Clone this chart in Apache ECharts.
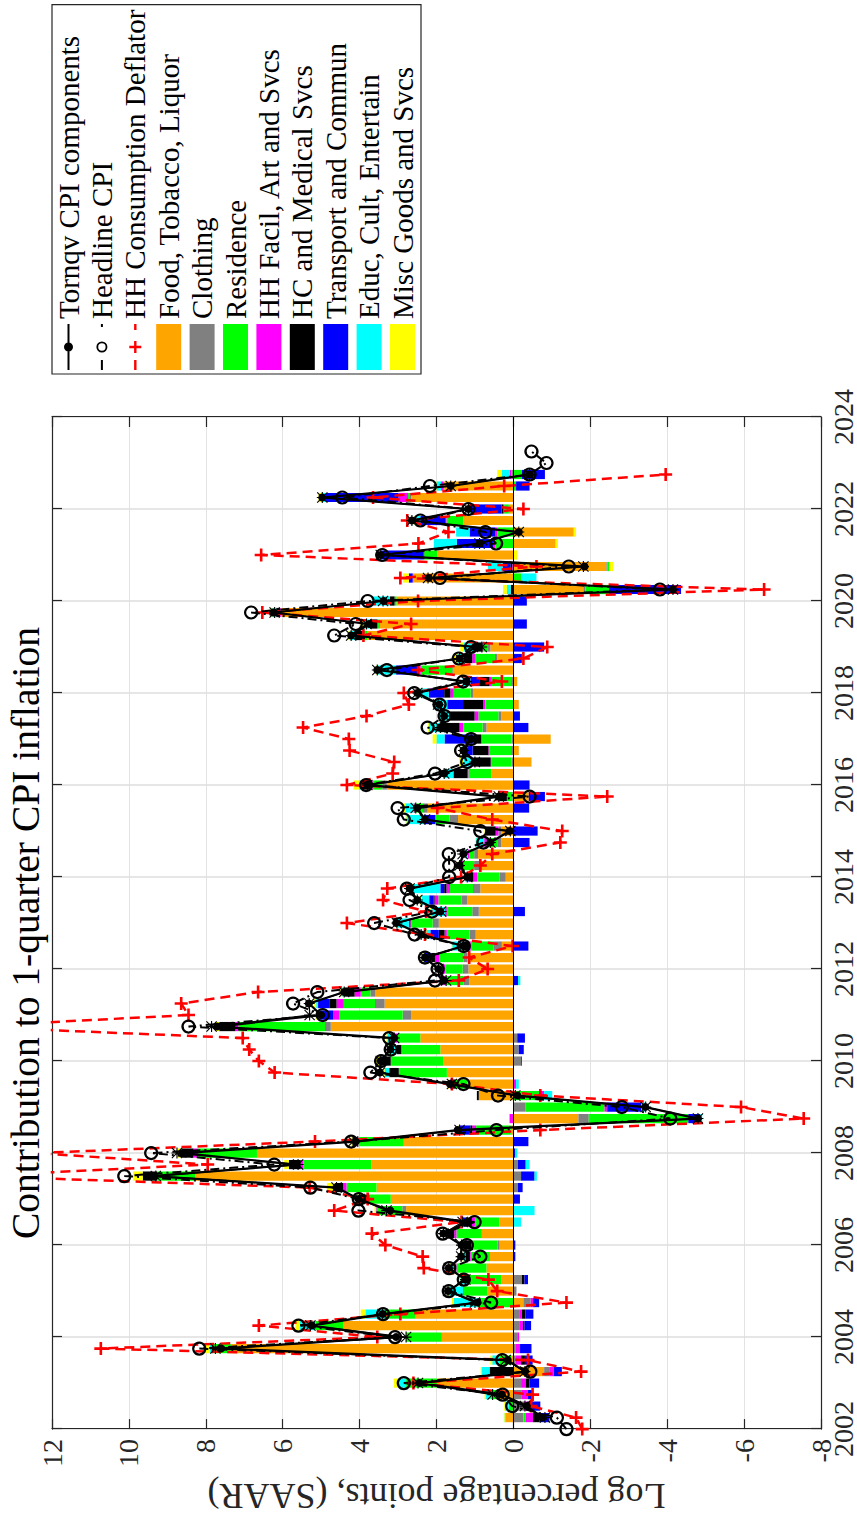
<!DOCTYPE html>
<html>
<head>
<meta charset="utf-8">
<script src="https://cdn.jsdelivr.net/npm/echarts@6.0.0/dist/echarts.min.js"></script>
<style>
  html, body { margin: 0; padding: 0; background: #fff; overflow: hidden; }
  #page { position: relative; width: 857px; height: 1522px; overflow: hidden; background: #fff; }
  /* the figure is laid out in landscape and turned a quarter turn counter-clockwise */
  #chart { position: absolute; left: 0; top: 0; width: 1522px; height: 857px;
           transform-origin: 0 0; transform: translate(0, 1522px) rotate(-90deg); }
</style>
</head>
<body>
<div id="page"><div id="chart"></div></div>
<script>
// Quarterly dates, 2002Q1 .. 2023Q2
const quarters = [
  2002, 2002.25, 2002.5, 2002.75, 2003, 2003.25, 2003.5, 2003.75,
  2004, 2004.25, 2004.5, 2004.75, 2005, 2005.25, 2005.5, 2005.75,
  2006, 2006.25, 2006.5, 2006.75, 2007, 2007.25, 2007.5, 2007.75,
  2008, 2008.25, 2008.5, 2008.75, 2009, 2009.25, 2009.5, 2009.75,
  2010, 2010.25, 2010.5, 2010.75, 2011, 2011.25, 2011.5, 2011.75,
  2012, 2012.25, 2012.5, 2012.75, 2013, 2013.25, 2013.5, 2013.75,
  2014, 2014.25, 2014.5, 2014.75, 2015, 2015.25, 2015.5, 2015.75,
  2016, 2016.25, 2016.5, 2016.75, 2017, 2017.25, 2017.5, 2017.75,
  2018, 2018.25, 2018.5, 2018.75, 2019, 2019.25, 2019.5, 2019.75,
  2020, 2020.25, 2020.5, 2020.75, 2021, 2021.25, 2021.5, 2021.75,
  2022, 2022.25, 2022.5, 2022.75, 2023, 2023.25
];
// quarter slots of the bar axis run to the right edge of the plot
const slotQuarters = quarters.concat([2023.5, 2023.75, 2024]);

// Component contributions, 2002Q2 .. 2022Q4 (log pp, SAAR)
const food = [0.2, 0.0, 0.35, 1.98, -0.8, 0.05, 7.35, 1.86, 4.43, 2.54, -0.26, 0.67, 0.32, 0.7, 0.61, 0.36, 0.82, 0.37, 2.79, 3.19, 3.56, 8.27, 3.69, 6.67, 2.85, 0.05, -1.69, 0.0, 0.9, 1.2, 1.73, 1.83, 1.9, 2.42, 4.75, 2.66, 3.35, 3.6, 1.15, 1.17, 1.2, 0.3, 0.98, 1.94, 0.9, 1.2, 0.86, 0.2, 0.82, 0.92, 0.32, 0.32, 1.44, 2.23, -0.4, 3.29, 0.57, -0.47, -0.14, -0.97, 0.7, 0.32, -0.14, 1.05, -0.1, 1.57, 0.42, 0.6, 3.79, 3.47, 6.03, 3.04, -1.82, 2.6, -2.42, 1.98, -1.1, -1.57, 1.3, 0.1, 2.66, 1.8, 0.0];
const clothing = [-0.26, -0.25, -0.22, -0.2, -0.15, -0.05, -0.05, -0.1, -0.17, -0.17, -0.19, -0.08, -0.22, 0.0, 0.0, 0.05, 0.0, 0.0, 0.1, 0.0, -0.12, -0.2, -0.12, 0.0, 0.0, 0.02, -0.27, -0.32, 0.0, 0.0, 0.0, -0.2, -0.14, -0.1, 0.15, 0.22, 0.25, 0.12, 0.15, 0.15, 0.1, 0.22, 0.16, 0.16, 0.17, 0.15, 0.19, 0.16, 0.2, 0.1, 0.1, 0.07, 0.22, 0.12, 0.03, 0.12, 0.0, 0.05, 0.06, 0.05, 0.1, 0.07, 0.0, 0.06, 0.06, 0.02, 0.06, 0.08, 0.0, 0.0, 0.0, 0.0, -0.05, 0.0, -0.03, 0.0, 0.0, 0.0, 0.0, 0.02, 0.03, 0.03, 0.05];
const residence = [-0.06, 0.12, 0.25, 0.81, 0.0, 0.3, 0.45, 0.93, 0.72, 0.81, 0.95, 0.62, 0.85, 0.78, 0.5, 0.66, 0.66, 0.63, 0.67, 0.54, 0.78, 1.0, 1.78, 1.53, 1.18, 0.9, -2.59, -2.05, -0.7, 0.3, 1.25, 1.36, 1.0, 0.6, 2.25, 1.64, 0.81, 0.25, 0.45, 0.45, 0.62, 0.59, 0.59, 0.56, 0.66, 0.6, 0.6, 0.58, 0.27, 0.12, 0.27, 0.0, 0.37, 0.2, 0.12, 0.25, 0.6, 0.52, 0.56, 0.77, 0.5, 0.52, 0.73, 0.44, 0.5, 0.82, 0.5, 0.1, 0.12, 0.05, 0.02, 0.05, -0.62, -0.2, -0.05, 0.34, 0.47, 0.42, 0.44, 0.12, 0.05, -0.07, -0.22];
const hhFacil = [-0.19, -0.1, -0.15, -0.12, -0.1, -0.15, -0.12, -0.05, -0.08, -0.05, -0.06, 0.02, 0.03, 0.03, 0.02, 0.03, 0.06, 0.08, 0.02, 0.03, 0.09, 0.0, 0.06, 0.12, 0.1, 0.1, 0.1, -0.06, -0.1, -0.07, 0.0, 0.0, 0.02, 0.09, 0.08, 0.17, 0.19, 0.16, 0.1, 0.06, 0.12, 0.03, 0.06, 0.02, 0.02, 0.1, 0.09, 0.1, 0.1, 0.05, 0.07, 0.07, 0.0, 0.02, 0.02, 0.05, 0.02, 0.02, 0.03, 0.02, 0.1, 0.1, 0.06, 0.09, 0.06, 0.07, 0.09, 0.02, 0.02, 0.02, 0.02, 0.0, 0.0, 0.02, 0.03, 0.0, 0.05, 0.05, 0.02, 0.02, 0.25, 0.05, 0.05];
const hcMedical = [-0.16, -0.05, 0.0, -0.1, 0.62, -0.1, 0.05, 0.0, -0.04, -0.09, 0.0, 0.0, -0.07, 0.02, 0.12, 0.2, 0.2, 0.15, 0.0, 0.25, 0.22, 0.37, 0.31, 0.31, 0.05, 0.05, 0.0, -0.02, 0.05, 0.1, 0.25, 0.29, 0.12, 0.07, 0.42, 0.0, 0.19, 0.27, 0.05, 0.02, 0.1, 0.2, 0.15, 0.02, 0.02, 0.02, 0.06, 0.12, 0.0, 0.0, 0.0, 0.27, 0.0, 0.02, 0.2, 0.25, 0.37, 0.45, 0.41, 0.2, 0.5, 0.65, 0.52, 0.16, 0.25, 0.0, 0.2, 0.2, 0.19, 0.19, 0.1, 0.12, 0.07, 0.0, 0.05, 0.02, 0.0, 0.0, 0.0, 0.05, 0.0, 0.0, 0.0];
const transport = [-0.27, -0.3, -0.14, -0.25, -0.21, -0.2, -0.3, 0.0, -0.17, -0.21, -0.16, 0.0, -0.09, 0.0, -0.05, -0.05, 0.0, 0.1, 0.0, -0.17, -0.12, -0.35, -0.2, -0.05, -0.39, 0.3, -0.31, -0.87, 0.0, 0.05, 0.0, -0.02, -0.13, -0.2, 0.0, 0.36, 0.29, 0.0, -0.12, 0.0, 0.18, -0.39, 0.22, 0.02, -0.3, 0.12, 0.1, 0.05, -0.02, 0.0, -0.42, -0.63, 0.31, -0.41, -0.42, -0.42, 0.0, 0.05, 0.12, 0.75, -0.39, -0.17, 0.41, 0.4, 0.25, 0.57, -0.22, -0.8, 0.0, -0.35, 0.0, -0.35, -1.87, 0.1, 0.2, 1.1, 0.95, 0.67, 0.66, 0.8, 1.9, -0.35, -0.6];
const educCult = [0.03, 0.1, 0.12, 0.2, 0.21, 0.2, 0.05, 0.0, 0.4, 0.5, 0.6, 0.37, 0.18, 0.1, 0.05, 0.05, 0.0, -0.2, -0.55, 0.0, 0.0, -0.06, -0.1, -0.05, 0.0, 0.0, -0.05, -0.1, -0.21, -0.07, 0.12, 0.0, 0.21, 0.1, 0.0, 0.05, 0.05, 0.05, -0.06, 0.02, 0.02, 0.25, 0.1, 0.3, 0.37, 0.19, 0.71, 0.05, 0.02, 0.05, 0.21, 0.0, 0.44, 0.22, 0.03, 0.05, 0.22, 0.2, 0.15, 0.21, 0.3, 0.25, 0.31, 0.22, 0.2, 0.5, 0.2, 0.3, 0.12, 0.15, 0.1, 0.47, 0.1, -0.4, 0.38, 0.0, 0.6, 0.35, 0.15, 0.03, 0.1, 0.12, 0.2];
const miscGoods = [0.02, 0.02, 0.03, 0.12, 0.02, 0.05, 0.12, 0.03, 0.12, 0.12, 0.05, 0.02, 0.02, 0.02, 0.02, 0.02, 0.02, 0.03, 0.03, 0.05, 0.2, 0.25, 0.12, 0.12, 0.05, 0.02, 0.0, 0.0, 0.0, 0.05, 0.03, 0.12, 0.02, 0.02, 0.1, 0.05, 0.05, 0.05, 0.0, 0.02, 0.02, 0.02, 0.02, 0.05, 0.02, 0.05, 0.04, 0.0, 0.0, 0.02, 0.02, 0.02, 0.02, 0.05, 0.0, 0.15, 0.02, 0.12, 0.02, 0.1, 0.02, 0.02, 0.02, 0.02, 0.0, 0.02, 0.08, 0.08, 0.05, 0.1, 0.05, 0.02, 0.1, 0.15, -0.1, -0.1, -0.06, -0.06, 0.02, 0.02, 0.08, 0.05, 0.12];

// Aggregates, 2002Q2 .. 2022Q4
const tornqv = [-0.75, -0.35, 0.3, 2.45, -0.3, 0.15, 7.6, 3.05, 5.25, 3.4, 0.93, 1.7, 1.25, 1.68, 1.36, 1.35, 1.82, 1.2, 3.2, 4.03, 4.6, 9.4, 5.65, 8.6, 4.1, 1.45, -4.8, -3.43, -0.1, 1.65, 3.47, 3.45, 3.2, 3.1, 7.7, 5.0, 5.32, 4.4, 1.8, 1.95, 2.3, 1.3, 2.4, 3.05, 1.9, 2.5, 2.7, 1.2, 1.4, 1.3, 0.6, 0.1, 2.3, 2.5, 0.38, 3.8, 1.8, 1.0, 1.3, 1.1, 1.9, 1.8, 1.93, 2.5, 1.22, 3.54, 1.4, 1.0, 4.22, 3.75, 6.25, 3.37, -4.15, 2.2, -1.85, 3.45, 0.88, -0.14, 2.64, 1.17, 4.97, 1.63, -0.42];
const tornqvIndex = [-0.82, -0.3, 0.54, 2.48, -0.3, 0.2, 7.75, 2.79, 5.28, 3.4, 1.0, 1.7, 1.25, 1.68, 1.36, 1.35, 1.82, 1.32, 3.3, 4.0, 4.6, 9.3, 5.6, 8.75, 4.17, 1.4, -4.8, -3.44, -0.05, 1.6, 3.47, 3.45, 3.2, 3.1, 7.85, 5.3, 5.31, 4.4, 1.75, 1.95, 2.3, 1.3, 2.4, 3.03, 1.88, 2.5, 2.7, 1.2, 1.4, 1.32, 0.6, 0.08, 2.3, 2.54, 0.38, 3.8, 1.8, 1.0, 1.3, 1.1, 1.9, 1.8, 1.96, 2.5, 1.22, 3.54, 1.4, 0.82, 4.22, 3.82, 6.21, 3.39, -4.15, 2.22, -1.82, 3.45, 0.88, -0.14, 2.64, 1.17, 4.97, 1.63, -0.42];
// Headline CPI, 2002Q1 .. 2023Q2
const headline = [-1.38, -1.13, 0.03, 0.28, 2.85, -0.44, 0.29, 8.17, 3.08, 5.59, 3.39, 0.58, 1.68, 1.29, 1.67, 0.86, 1.21, 1.84, 1.01, 4.03, 4.02, 5.28, 10.12, 6.22, 9.42, 4.22, 0.44, -4.08, -2.82, 0.4, 1.3, 3.72, 3.44, 3.19, 3.23, 8.45, 4.96, 5.73, 5.1, 2.04, 1.97, 2.3, 1.29, 2.57, 3.62, 2.12, 2.7, 2.77, 1.67, 1.67, 1.68, 0.78, 0.86, 2.85, 3.01, -0.42, 3.83, 2.04, 1.2, 1.36, 1.1, 2.23, 1.79, 1.92, 2.58, 1.31, 3.29, 1.42, 1.1, 4.66, 4.1, 6.82, 3.79, -3.81, 1.91, -1.44, 3.41, 0.45, 0.73, 2.42, 1.17, 4.45, 2.17, -0.42, -0.86, -0.47];
// HH consumption deflator, 2002Q1 .. 2022Q4
const hhDeflator = [-1.79, -1.63, -0.46, -0.5, 2.6, -1.76, -0.38, 10.73, 3.54, 6.62, 2.94, -1.38, 0.42, 0.65, 2.33, 2.36, 3.33, 3.68, 1.35, 4.66, 3.79, 5.3, 14.0, 7.95, 12.4, 5.16, -0.7, -7.55, -5.92, -0.7, 1.6, 6.21, 6.62, 6.87, 7.04, 14.3, 8.45, 8.64, 6.64, 1.42, 0.67, 1.15, 0.02, 2.3, 4.33, 2.27, 3.39, 3.28, 1.36, 0.86, 0.55, -1.22, -1.27, 0.55, 1.98, -2.44, 4.33, 3.14, 3.1, 4.26, 4.28, 5.47, 3.82, 2.72, 2.85, 0.3, 2.48, -0.26, -0.88, 3.9, 2.66, 6.53, 2.48, -6.52, 2.94, -0.6, 6.56, 2.47, 1.69, 2.76, -0.26, 3.65, 0.24, -3.96];

const componentNames = ['Food, Tobacco, Liquor', 'Clothing', 'Residence', 'HH Facil, Art and Svcs',
  'HC and Medical Svcs', 'Transport and Commun', 'Educ, Cult, Entertain', 'Misc Goods and Svcs'];
const componentColors = ['#FFA500', '#808080', '#00FF00', '#FF00FF', '#000000', '#0000FF', '#00FFFF', '#FFFF00'];
const components = [food, clothing, residence, hhFacil, hcMedical, transport, educCult, miscGoods];
const yearTicks = { min: 2002, max: 2024, step: 2 };
const valueTicks = { min: -8, max: 12, step: 2 };

const barDates = quarters.slice(1, 84);
const hhDates = quarters.slice(0, 84);
const pair = (xs, ys) => ys.map((v, i) => [xs[i], v]);
const slotPair = (xs, ys) => ys.map((v, i) => [String(xs[i]), v]);

const FONT = '"Liberation Serif", "DejaVu Serif", serif';
const AXIS = '#262626';
// marker shapes
const plusPath = 'path://M8,0H12V8H20V12H12V20H8V12H0V8H8Z';
const starPath = 'path://M9,0H11V20H9Z M0,9H20V11H0Z M0,1.4L1.4,0L20,18.6L18.6,20Z M18.6,0L20,1.4L1.4,20L0,18.6Z';
// legend keys: line sample with its marker, drawn in a 46 x 25 box
const keySolidDot = 'path://M0,11.5H46V13.5H0Z M18.5,12.5A4.5,4.5 0 1,1 27.5,12.5A4.5,4.5 0 1,1 18.5,12.5Z';
const keyDashDotRing = 'path://M0,11.5H10V13.5H0Z M17.5,12.5A5.5,5.5 0 1,1 28.5,12.5A5.5,5.5 0 1,1 17.5,12.5Z M19.3,12.5A3.7,3.7 0 1,0 26.7,12.5A3.7,3.7 0 1,0 19.3,12.5Z M43,11.5H46V13.5H43Z';
const keyDashPlus = 'path://M0,11.3H10V13.7H0Z M21.8,6.5H24.2V11.3H29V13.7H24.2V18.5H21.8V13.7H17V11.3H21.8Z M40,11.3H46V13.7H40Z';

// stacked contribution bars sit on a hidden quarterly category axis (index 2)
const barSeries = components.map((vals, k) => ({
  type: 'bar', name: componentNames[k], stack: 'contrib', barWidth: 9.2,
  xAxisIndex: 2, yAxisIndex: 0,
  data: slotPair(barDates, vals), itemStyle: { color: componentColors[k] },
  z: 2, silent: true,
  markLine: k === 0 ? { silent: true, symbol: ['none', 'none'], label: { show: false },
    lineStyle: { color: '#000', width: 1, type: 'solid' }, data: [{ yAxis: 0 }] } : undefined
}));

const chart = echarts.init(document.getElementById('chart'), null, { renderer: 'svg', width: 1522, height: 857 });
chart.setOption({
  animation: false,
  backgroundColor: '#fff',
  title: {
    text: 'Contribution to 1-quarter CPI inflation', left: 584, top: 1, textAlign: 'center',
    textStyle: { fontFamily: FONT, fontSize: 39.5, fontWeight: 'normal', color: '#000' }
  },
  legend: {
    left: 1148, top: 52, orient: 'vertical', padding: [2, 5, 4, 4],
    itemWidth: 46, itemHeight: 25, itemGap: 4.4,
    backgroundColor: '#fff', borderColor: AXIS, borderWidth: 1.2, borderRadius: 0,
    textStyle: { fontFamily: FONT, fontSize: 29, color: '#000', lineHeight: 29 },
    data: [
      { name: 'Tornqv CPI components', icon: keySolidDot, itemStyle: { color: '#000', borderWidth: 0 } },
      { name: 'Headline CPI', icon: keyDashDotRing, itemStyle: { color: '#000', borderWidth: 0 } },
      { name: 'HH Consumption Deflator', icon: keyDashPlus, itemStyle: { color: '#FF0000', borderWidth: 0 } }
    ].concat(componentNames.map(n => ({ name: n, icon: 'rect' })))
  },
  grid: { left: 90, right: 417, top: 52, bottom: 36, containLabel: false },
  xAxis: [{
    type: 'value', min: yearTicks.min, max: yearTicks.max, interval: yearTicks.step, position: 'bottom',
    axisLine: { show: true, onZero: false, lineStyle: { color: AXIS, width: 1.2 } },
    axisTick: { show: true, inside: true, length: 10, lineStyle: { color: AXIS, width: 1.2 } },
    axisLabel: { fontFamily: FONT, fontSize: 28, color: AXIS, margin: 8, formatter: v => String(v) },
    splitLine: { show: true, lineStyle: { color: '#dedede', width: 1.5 } }
  }, {
    type: 'value', min: yearTicks.min, max: yearTicks.max, interval: yearTicks.step, position: 'top',
    axisLine: { show: true, onZero: false, lineStyle: { color: AXIS, width: 1.2 } },
    axisTick: { show: true, inside: true, length: 10, lineStyle: { color: AXIS, width: 1.2 } },
    axisLabel: { show: false }, splitLine: { show: false }
  }, {
    type: 'category', data: slotQuarters.map(String), boundaryGap: false, position: 'bottom',
    axisLine: { show: false }, axisTick: { show: false }, axisLabel: { show: false },
    splitLine: { show: false }
  }],
  yAxis: [{
    type: 'value', min: valueTicks.min, max: valueTicks.max, interval: valueTicks.step, position: 'left',
    name: 'Log percentage points, (SAAR)', nameLocation: 'middle', nameGap: 46,
    nameTextStyle: { fontFamily: FONT, fontSize: 36, color: AXIS },
    axisLine: { show: true, onZero: false, lineStyle: { color: AXIS, width: 1.2 } },
    axisTick: { show: true, inside: true, length: 10, lineStyle: { color: AXIS, width: 1.2 } },
    axisLabel: { fontFamily: FONT, fontSize: 28, color: AXIS, margin: 10 },
    splitLine: { show: true, lineStyle: { color: '#e3e3e3', width: 1 } }
  }, {
    type: 'value', min: valueTicks.min, max: valueTicks.max, interval: valueTicks.step, position: 'right',
    axisLine: { show: true, onZero: false, lineStyle: { color: AXIS, width: 1.2 } },
    axisTick: { show: true, inside: true, length: 10, lineStyle: { color: AXIS, width: 1.2 } },
    axisLabel: { show: false }, splitLine: { show: false }
  }],
  series: barSeries.concat([
    {
      type: 'line', name: 'Tornqv CPI components', data: pair(barDates, tornqv), z: 6,
      symbol: 'circle', symbolSize: 8, itemStyle: { color: '#000' },
      lineStyle: { color: '#000', width: 2.2 }, silent: true
    },
    {
      type: 'line', name: 'Tornqv index', data: pair(barDates, tornqvIndex), z: 6,
      symbol: starPath, symbolSize: 11, itemStyle: { color: '#000' },
      lineStyle: { color: '#000', width: 1.2 }, silent: true
    },
    {
      type: 'line', name: 'Headline CPI', data: pair(quarters, headline), z: 5,
      symbol: 'circle', symbolSize: 12,
      itemStyle: { color: 'rgba(0,0,0,0)', borderColor: '#000', borderWidth: 2.2 },
      lineStyle: { color: '#000', width: 2, type: [9, 4, 2, 4] }, silent: true
    },
    {
      type: 'line', name: 'HH Consumption Deflator', data: pair(hhDates, hhDeflator), z: 4,
      symbol: plusPath, symbolSize: 13, itemStyle: { color: '#FF0000' },
      lineStyle: { color: '#FF0000', width: 2.5, type: [10, 6] }, silent: true
    }
  ])
});
</script>
</body>
</html>
